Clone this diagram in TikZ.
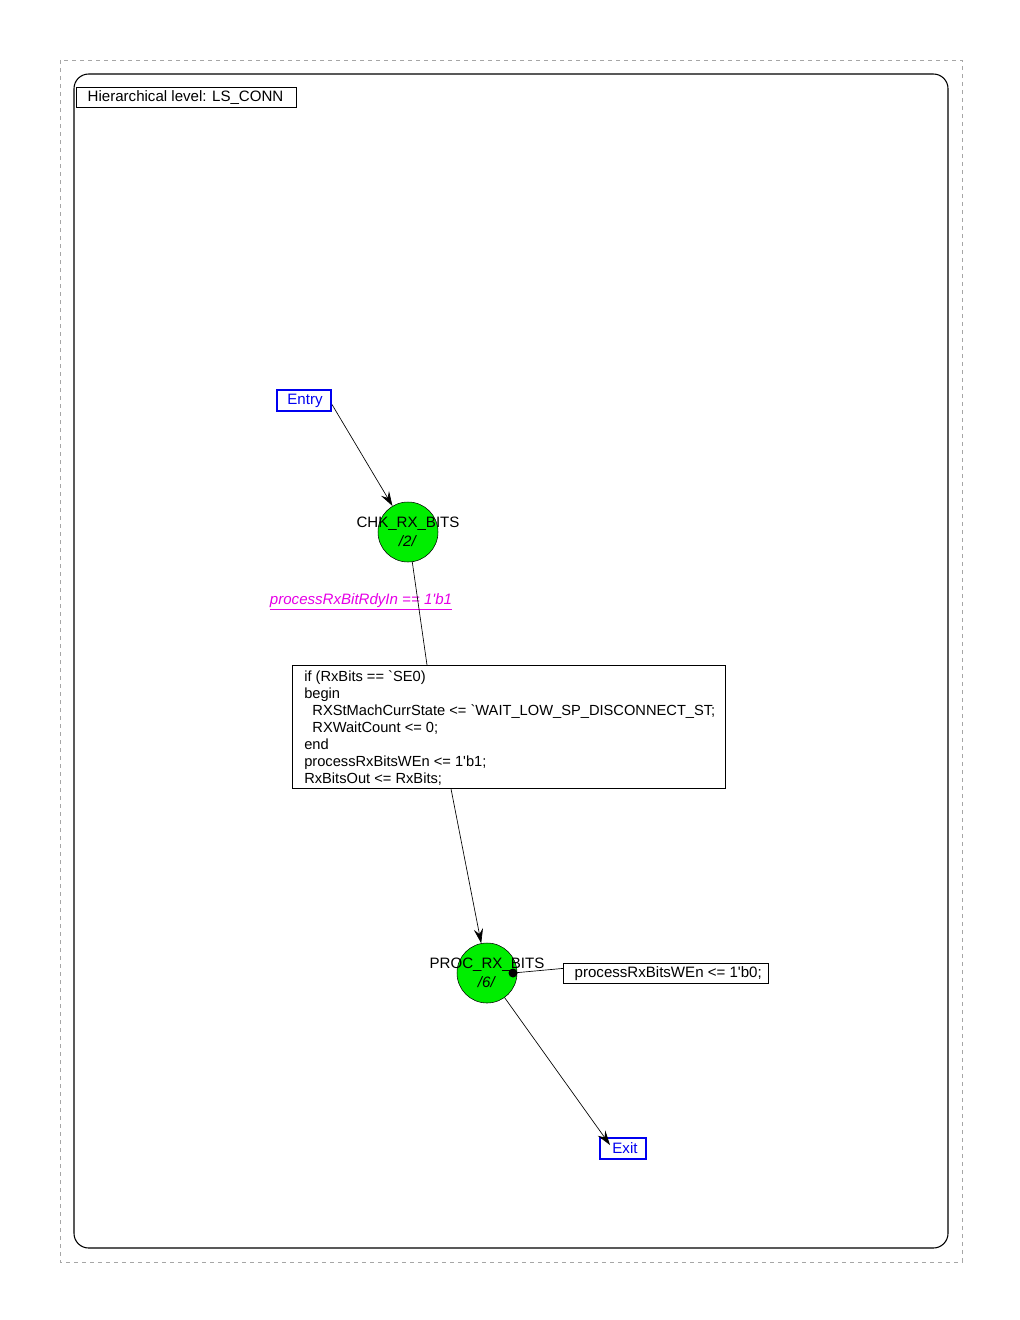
\documentclass[tikz,border=0pt]{standalone}
\usepackage{fontspec}
\setmainfont{Liberation Sans}[Ligatures=TeXOff]
\usetikzlibrary{arrows.meta,calc}
\definecolor{stategreen}{RGB}{0,238,0}
\definecolor{condmag}{RGB}{230,0,230}
\definecolor{portblue}{RGB}{0,0,240}
\begin{document}
\begin{tikzpicture}[x=0.75pt,y=-0.75pt,
  every node/.style={font=\fontsize{11.3}{12.75}\selectfont},
  port/.style={draw=portblue,line width=1.5pt,text=portblue,inner xsep=3pt,inner ysep=1pt,minimum height=15.75pt},
  state/.style={circle,draw=black,fill=stategreen,minimum size=45pt,inner sep=0pt},
  actbox/.style={draw,line width=0.6pt,inner sep=0pt},
  trans/.style={line width=0.5pt},
  arr/.style={-{Stealth[length=11pt,width=7pt,inset=4pt]}}]
  % page frame and level frame
  \useasboundingbox (0,0) rectangle (1020,1320);
  \draw[gray!70,dashed,line width=0.6pt] (60,60) rectangle (962,1262);
  \draw[line width=0.8pt,rounded corners=11pt] (74,74) rectangle (948,1248);
  \node[actbox,anchor=north west,minimum width=165pt,minimum height=15pt] (lvl) at (76,87) {};
  \node[anchor=west] (lvltxt) at (83,98) {Hierarchical level: LS\_CONN};
  % entry and exit ports
  \node[port,anchor=north west,minimum width=40.5pt] (entry) at (276,389) {};
  \node[text=portblue] (entrytxt) at (305,400.5) {Entry};
  \node[port,anchor=north west,minimum width=34.5pt] (exit) at (599,1137) {};
  \node[text=portblue] (exittxt) at (625,1148) {Exit};
  % states
  \node[state] (chk) at (408,532) {};
  \node (chklbl) at (408,524) {CHK\_RX\_BITS};
  \node (chknum) at (408,541) {\textit{/2/}};
  \node[state] (proc) at (487,973) {};
  \node (proclbl) at (487,965) {PROC\_RX\_BITS};
  \node (procnum) at (487,982) {\textit{/6/}};
  % transition condition and action
  \node[text=condmag] (cond) at (361,602) {\underline{\textit{processRxBitRdyIn == 1'b1}}};
  \node[actbox,anchor=north west,minimum width=324.75pt,minimum height=92.25pt] (act) at (292,665) {};
  \node[anchor=north west,align=left,inner sep=0pt,font=\fontsize{11}{12.75}\selectfont] (acttxt) at (304,670)
    {if (RxBits == `SE0)\\begin\\\ \ RXStMachCurrState <= `WAIT\_LOW\_SP\_DISCONNECT\_ST;\\\ \ RXWaitCount <= 0;\\end\\processRxBitsWEn <= 1'b1;\\RxBitsOut <= RxBits;};
  % state action
  \node[actbox,anchor=north west,minimum width=153.75pt,minimum height=15pt] (sact) at (563,963) {};
  \node[anchor=west] (sacttxt) at (570,974) {processRxBitsWEn <= 1'b0;};
  \coordinate (dot) at (513,973);
  % connectors
  \draw[trans,arr] ($(entry.east)+(0,4)$) -- (chk);
  \draw[trans] (chk) -- ($(act.north west)+(135,0)$);
  \draw[trans,arr] ($(act.south west)+(159,0)$) -- (proc);
  \draw[trans,arr] (proc) -- ($(exit.north west)+(11,8)$);
  \fill (dot) circle (4.5);
  \draw[trans] (dot) -- ($(sact.west)+(0,-5)$);
\end{tikzpicture}
\end{document}
